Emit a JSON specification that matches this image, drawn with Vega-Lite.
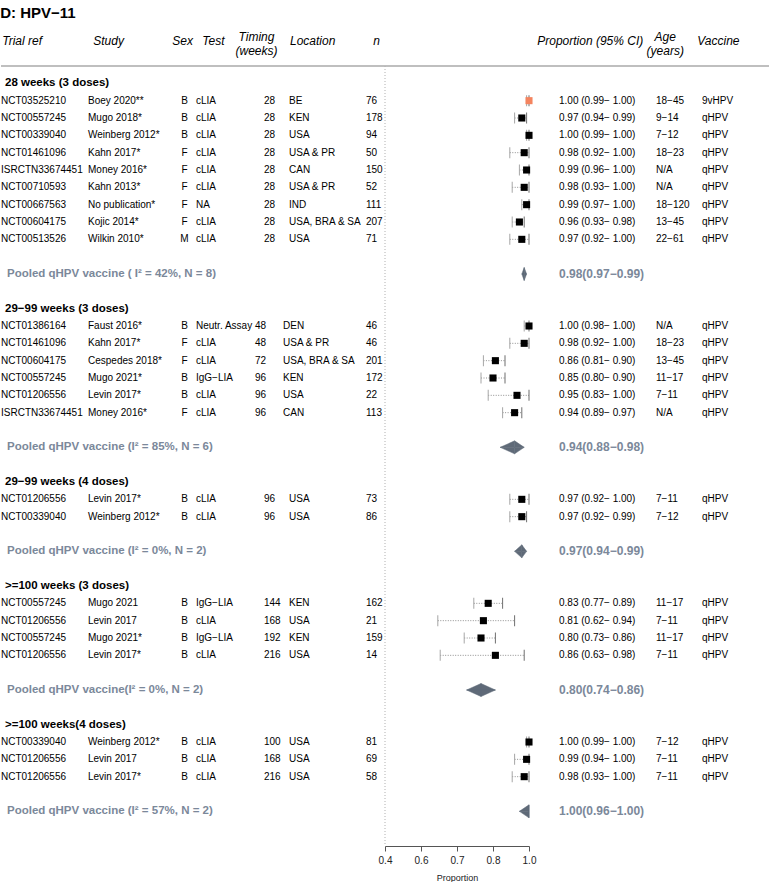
{
  "$schema": "https://vega.github.io/schema/vega-lite/v6.json",
  "padding": {"top": 6, "left": 0, "right": 0, "bottom": 0},
  "title": {"text": "D: HPV−11", "anchor": "start", "fontSize": 15, "fontWeight": "bold", "offset": 10, "color": "#000000"},
  "spacing": 0,
  "bounds": "flush",
  "config": {
    "font": "Liberation Sans",
    "view": {"stroke": null},
    "concat": {"spacing": 0},
    "axisX": {"labelFontSize": 10, "labelColor": "#222222", "titleFontSize": 9, "titleFontWeight": "normal", "titleColor": "#222222", "labelFlush": false, "tickSize": 5, "domainColor": "#555555", "tickColor": "#555555", "grid": false, "labelPadding": 4, "titlePadding": 8}
  },
  "datasets": {
    "rows": [
      {"k": 0, "kind": "hdr", "sec": 1, "label": "28 weeks (3 doses)"},
      {"k": 1, "kind": "study", "sec": 1, "trial": "NCT03525210", "study": "Boey 2020**", "sex": "B", "test": "cLIA", "time": 28, "loc": "BE", "n": 76, "ci": "1.00 (0.99− 1.00)", "age": "18−45", "vac": "9vHPV", "est": 1.00, "lo": 0.99, "hi": 1.00},
      {"k": 2, "kind": "study", "sec": 1, "trial": "NCT00557245", "study": "Mugo 2018*", "sex": "B", "test": "cLIA", "time": 28, "loc": "KEN", "n": 178, "ci": "0.97 (0.94− 0.99)", "age": "9−14", "vac": "qHPV", "est": 0.97, "lo": 0.94, "hi": 0.99},
      {"k": 3, "kind": "study", "sec": 1, "trial": "NCT00339040", "study": "Weinberg 2012*", "sex": "B", "test": "cLIA", "time": 28, "loc": "USA", "n": 94, "ci": "1.00 (0.99− 1.00)", "age": "7−12", "vac": "qHPV", "est": 1.00, "lo": 0.99, "hi": 1.00},
      {"k": 4, "kind": "study", "sec": 1, "trial": "NCT01461096", "study": "Kahn 2017*", "sex": "F", "test": "cLIA", "time": 28, "loc": "USA & PR", "n": 50, "ci": "0.98 (0.92− 1.00)", "age": "18−23", "vac": "qHPV", "est": 0.98, "lo": 0.92, "hi": 1.00},
      {"k": 5, "kind": "study", "sec": 1, "trial": "ISRCTN33674451", "study": "Money 2016*", "sex": "F", "test": "cLIA", "time": 28, "loc": "CAN", "n": 150, "ci": "0.99 (0.96− 1.00)", "age": "N/A", "vac": "qHPV", "est": 0.99, "lo": 0.96, "hi": 1.00},
      {"k": 6, "kind": "study", "sec": 1, "trial": "NCT00710593", "study": "Kahn 2013*", "sex": "F", "test": "cLIA", "time": 28, "loc": "USA & PR", "n": 52, "ci": "0.98 (0.93− 1.00)", "age": "N/A", "vac": "qHPV", "est": 0.98, "lo": 0.93, "hi": 1.00},
      {"k": 7, "kind": "study", "sec": 1, "trial": "NCT00667563", "study": "No publication*", "sex": "F", "test": "NA", "time": 28, "loc": "IND", "n": 111, "ci": "0.99 (0.97− 1.00)", "age": "18−120", "vac": "qHPV", "est": 0.99, "lo": 0.97, "hi": 1.00},
      {"k": 8, "kind": "study", "sec": 1, "trial": "NCT00604175", "study": "Kojic 2014*", "sex": "F", "test": "cLIA", "time": 28, "loc": "USA, BRA & SA", "n": 207, "ci": "0.96 (0.93− 0.98)", "age": "13−45", "vac": "qHPV", "est": 0.96, "lo": 0.93, "hi": 0.98},
      {"k": 9, "kind": "study", "sec": 1, "trial": "NCT00513526", "study": "Wilkin 2010*", "sex": "M", "test": "cLIA", "time": 28, "loc": "USA", "n": 71, "ci": "0.97 (0.92− 1.00)", "age": "22−61", "vac": "qHPV", "est": 0.97, "lo": 0.92, "hi": 1.00},
      {"k": 11, "kind": "pool", "sec": 1, "label": "Pooled qHPV vaccine ( I² = 42%, N = 8)", "pci": "0.98(0.97−0.99)", "est": 0.98, "lo": 0.97, "hi": 0.99},
      {"k": 13, "kind": "hdr", "sec": 2, "label": "29−99 weeks (3 doses)"},
      {"k": 14, "kind": "study", "sec": 2, "trial": "NCT01386164", "study": "Faust 2016*", "sex": "B", "test": "Neutr. Assay", "time": 48, "loc": "DEN", "n": 46, "ci": "1.00 (0.98− 1.00)", "age": "N/A", "vac": "qHPV", "est": 1.00, "lo": 0.98, "hi": 1.00},
      {"k": 15, "kind": "study", "sec": 2, "trial": "NCT01461096", "study": "Kahn 2017*", "sex": "F", "test": "cLIA", "time": 48, "loc": "USA & PR", "n": 46, "ci": "0.98 (0.92− 1.00)", "age": "18−23", "vac": "qHPV", "est": 0.98, "lo": 0.92, "hi": 1.00},
      {"k": 16, "kind": "study", "sec": 2, "trial": "NCT00604175", "study": "Cespedes 2018*", "sex": "F", "test": "cLIA", "time": 72, "loc": "USA, BRA & SA", "n": 201, "ci": "0.86 (0.81− 0.90)", "age": "13−45", "vac": "qHPV", "est": 0.86, "lo": 0.81, "hi": 0.90},
      {"k": 17, "kind": "study", "sec": 2, "trial": "NCT00557245", "study": "Mugo 2021*", "sex": "B", "test": "IgG−LIA", "time": 96, "loc": "KEN", "n": 172, "ci": "0.85 (0.80− 0.90)", "age": "11−17", "vac": "qHPV", "est": 0.85, "lo": 0.80, "hi": 0.90},
      {"k": 18, "kind": "study", "sec": 2, "trial": "NCT01206556", "study": "Levin 2017*", "sex": "B", "test": "cLIA", "time": 96, "loc": "USA", "n": 22, "ci": "0.95 (0.83− 1.00)", "age": "7−11", "vac": "qHPV", "est": 0.95, "lo": 0.83, "hi": 1.00},
      {"k": 19, "kind": "study", "sec": 2, "trial": "ISRCTN33674451", "study": "Money 2016*", "sex": "F", "test": "cLIA", "time": 96, "loc": "CAN", "n": 113, "ci": "0.94 (0.89− 0.97)", "age": "N/A", "vac": "qHPV", "est": 0.94, "lo": 0.89, "hi": 0.97},
      {"k": 21, "kind": "pool", "sec": 2, "label": "Pooled qHPV vaccine (I² = 85%, N = 6)", "pci": "0.94(0.88−0.98)", "est": 0.94, "lo": 0.88, "hi": 0.98},
      {"k": 23, "kind": "hdr", "sec": 3, "label": "29−99 weeks (4 doses)"},
      {"k": 24, "kind": "study", "sec": 3, "trial": "NCT01206556", "study": "Levin 2017*", "sex": "B", "test": "cLIA", "time": 96, "loc": "USA", "n": 73, "ci": "0.97 (0.92− 1.00)", "age": "7−11", "vac": "qHPV", "est": 0.97, "lo": 0.92, "hi": 1.00},
      {"k": 25, "kind": "study", "sec": 3, "trial": "NCT00339040", "study": "Weinberg 2012*", "sex": "B", "test": "cLIA", "time": 96, "loc": "USA", "n": 86, "ci": "0.97 (0.92− 0.99)", "age": "7−12", "vac": "qHPV", "est": 0.97, "lo": 0.92, "hi": 0.99},
      {"k": 27, "kind": "pool", "sec": 3, "label": "Pooled qHPV vaccine (I² = 0%, N = 2)", "pci": "0.97(0.94−0.99)", "est": 0.97, "lo": 0.94, "hi": 0.99},
      {"k": 29, "kind": "hdr", "sec": 4, "label": ">=100 weeks (3 doses)"},
      {"k": 30, "kind": "study", "sec": 4, "trial": "NCT00557245", "study": "Mugo 2021", "sex": "B", "test": "IgG−LIA", "time": 144, "loc": "KEN", "n": 162, "ci": "0.83 (0.77− 0.89)", "age": "11−17", "vac": "qHPV", "est": 0.83, "lo": 0.77, "hi": 0.89},
      {"k": 31, "kind": "study", "sec": 4, "trial": "NCT01206556", "study": "Levin 2017", "sex": "B", "test": "cLIA", "time": 168, "loc": "USA", "n": 21, "ci": "0.81 (0.62− 0.94)", "age": "7−11", "vac": "qHPV", "est": 0.81, "lo": 0.62, "hi": 0.94},
      {"k": 32, "kind": "study", "sec": 4, "trial": "NCT00557245", "study": "Mugo 2021*", "sex": "B", "test": "IgG−LIA", "time": 192, "loc": "KEN", "n": 159, "ci": "0.80 (0.73− 0.86)", "age": "11−17", "vac": "qHPV", "est": 0.80, "lo": 0.73, "hi": 0.86},
      {"k": 33, "kind": "study", "sec": 4, "trial": "NCT01206556", "study": "Levin 2017*", "sex": "B", "test": "cLIA", "time": 216, "loc": "USA", "n": 14, "ci": "0.86 (0.63− 0.98)", "age": "7−11", "vac": "qHPV", "est": 0.86, "lo": 0.63, "hi": 0.98},
      {"k": 35, "kind": "pool", "sec": 4, "label": "Pooled qHPV vaccine(I² = 0%, N = 2)", "pci": "0.80(0.74−0.86)", "est": 0.80, "lo": 0.74, "hi": 0.86},
      {"k": 37, "kind": "hdr", "sec": 5, "label": ">=100 weeks(4 doses)"},
      {"k": 38, "kind": "study", "sec": 5, "trial": "NCT00339040", "study": "Weinberg 2012*", "sex": "B", "test": "cLIA", "time": 100, "loc": "USA", "n": 81, "ci": "1.00 (0.99− 1.00)", "age": "7−12", "vac": "qHPV", "est": 1.00, "lo": 0.99, "hi": 1.00},
      {"k": 39, "kind": "study", "sec": 5, "trial": "NCT01206556", "study": "Levin 2017", "sex": "B", "test": "cLIA", "time": 168, "loc": "USA", "n": 69, "ci": "0.99 (0.94− 1.00)", "age": "7−11", "vac": "qHPV", "est": 0.99, "lo": 0.94, "hi": 1.00},
      {"k": 40, "kind": "study", "sec": 5, "trial": "NCT01206556", "study": "Levin 2017*", "sex": "B", "test": "cLIA", "time": 216, "loc": "USA", "n": 58, "ci": "0.98 (0.93− 1.00)", "age": "7−11", "vac": "qHPV", "est": 0.98, "lo": 0.93, "hi": 1.00},
      {"k": 42, "kind": "pool", "sec": 5, "label": "Pooled qHPV vaccine (I² = 57%, N = 2)", "pci": "1.00(0.96−1.00)", "est": 1.00, "lo": 0.96, "hi": 1.00}
    ]
  },
  "hconcat": [
    {
      "width": 87, "height": 780, "data": {"name": "rows"},
      "title": {"text": "Trial ref", "anchor": "start", "dx": 2, "offset": 17, "fontSize": 12, "fontStyle": "italic", "fontWeight": "normal", "color": "#000000"},
      "layer": [
        {"data": {"values": [{}]}, "mark": {"type": "rule", "color": "#aaaaaa", "strokeWidth": 1.5}, "encoding": {"y": {"datum": -1, "type": "quantitative", "scale": {"domain": [-1, 44], "reverse": true, "nice": false, "zero": false}, "axis": null}}},
        {"transform": [{"filter": "datum.kind === 'study'"}], "mark": {"type": "text", "align": "left", "baseline": "middle", "fontSize": 10, "color": "#000000"},
         "encoding": {"x": {"datum": 0, "type": "quantitative", "scale": {"domain": [0, 1]}, "axis": null}, "y": {"field": "k", "type": "quantitative", "axis": null}, "text": {"field": "trial", "type": "nominal"}}},
        {"transform": [{"filter": "datum.kind === 'hdr'"}], "mark": {"type": "text", "align": "left", "baseline": "middle", "fontSize": 11.5, "fontWeight": "bold", "dx": 4, "color": "#000000"},
         "encoding": {"x": {"datum": 0, "type": "quantitative", "axis": null}, "y": {"field": "k", "type": "quantitative", "axis": null}, "text": {"field": "label", "type": "nominal"}}},
        {"transform": [{"filter": "datum.kind === 'pool'"}], "mark": {"type": "text", "align": "left", "baseline": "middle", "fontSize": 11.5, "fontWeight": "bold", "dx": 6, "color": "#7b889a"},
         "encoding": {"x": {"datum": 0, "type": "quantitative", "axis": null}, "y": {"field": "k", "type": "quantitative", "axis": null}, "text": {"field": "label", "type": "nominal"}}}
      ]
    },
    {
      "width": 85, "height": 780, "data": {"name": "rows"},
      "title": {"text": "Study", "anchor": "start", "dx": 6, "offset": 17, "fontSize": 12, "fontStyle": "italic", "fontWeight": "normal", "color": "#000000"},
      "layer": [
        {"data": {"values": [{}]}, "mark": {"type": "rule", "color": "#aaaaaa", "strokeWidth": 1.5}, "encoding": {"y": {"datum": -1, "type": "quantitative", "scale": {"domain": [-1, 44], "reverse": true, "nice": false, "zero": false}, "axis": null}}},
        {"transform": [{"filter": "datum.kind === 'study'"}], "mark": {"type": "text", "align": "left", "baseline": "middle", "fontSize": 10, "color": "#000000"},
         "encoding": {"x": {"datum": 0, "type": "quantitative", "scale": {"domain": [0, 1]}, "axis": null}, "y": {"field": "k", "type": "quantitative", "axis": null}, "text": {"field": "study", "type": "nominal"}}}
      ]
    },
    {
      "width": 23, "height": 780, "data": {"name": "rows"},
      "title": {"text": "Sex", "anchor": "start", "dx": 0, "offset": 17, "fontSize": 12, "fontStyle": "italic", "fontWeight": "normal", "color": "#000000"},
      "layer": [
        {"data": {"values": [{}]}, "mark": {"type": "rule", "color": "#aaaaaa", "strokeWidth": 1.5}, "encoding": {"y": {"datum": -1, "type": "quantitative", "scale": {"domain": [-1, 44], "reverse": true, "nice": false, "zero": false}, "axis": null}}},
        {"transform": [{"filter": "datum.kind === 'study'"}], "mark": {"type": "text", "align": "center", "baseline": "middle", "fontSize": 10, "color": "#000000"},
         "encoding": {"x": {"datum": 0.5, "type": "quantitative", "scale": {"domain": [0, 1]}, "axis": null}, "y": {"field": "k", "type": "quantitative", "axis": null}, "text": {"field": "sex", "type": "nominal"}}}
      ]
    },
    {
      "width": 68, "height": 780, "data": {"name": "rows"},
      "title": {"text": "Test", "anchor": "start", "dx": 7, "offset": 17, "fontSize": 12, "fontStyle": "italic", "fontWeight": "normal", "color": "#000000"},
      "layer": [
        {"data": {"values": [{}]}, "mark": {"type": "rule", "color": "#aaaaaa", "strokeWidth": 1.5}, "encoding": {"y": {"datum": -1, "type": "quantitative", "scale": {"domain": [-1, 44], "reverse": true, "nice": false, "zero": false}, "axis": null}}},
        {"transform": [{"filter": "datum.kind === 'study'"}], "mark": {"type": "text", "align": "left", "baseline": "middle", "fontSize": 10, "color": "#000000"},
         "encoding": {"x": {"datum": 0, "type": "quantitative", "scale": {"domain": [0, 1]}, "axis": null}, "y": {"field": "k", "type": "quantitative", "axis": null}, "text": {"field": "test", "type": "nominal"}}}
      ]
    },
    {
      "width": 25, "height": 780, "data": {"name": "rows"},
      "title": {"text": ["Timing", "(weeks)"], "anchor": "start", "align": "center", "dx": 1.5, "offset": 7, "fontSize": 12, "fontStyle": "italic", "fontWeight": "normal", "color": "#000000"},
      "layer": [
        {"data": {"values": [{}]}, "mark": {"type": "rule", "color": "#aaaaaa", "strokeWidth": 1.5}, "encoding": {"y": {"datum": -1, "type": "quantitative", "scale": {"domain": [-1, 44], "reverse": true, "nice": false, "zero": false}, "axis": null}}},
        {"transform": [{"filter": "datum.kind === 'study' && datum.sec !== 2"}], "mark": {"type": "text", "align": "left", "baseline": "middle", "fontSize": 10, "color": "#000000"},
         "encoding": {"x": {"datum": 0, "type": "quantitative", "scale": {"domain": [0, 1]}, "axis": null}, "y": {"field": "k", "type": "quantitative", "axis": null}, "text": {"field": "time", "type": "nominal"}}},
        {"transform": [{"filter": "datum.kind === 'study' && datum.sec === 2"}], "mark": {"type": "text", "align": "left", "baseline": "middle", "fontSize": 10, "dx": -9, "color": "#000000"},
         "encoding": {"x": {"datum": 0, "type": "quantitative", "axis": null}, "y": {"field": "k", "type": "quantitative", "axis": null}, "text": {"field": "time", "type": "nominal"}}}
      ]
    },
    {
      "width": 77, "height": 780, "data": {"name": "rows"},
      "title": {"text": "Location", "anchor": "start", "dx": 7, "offset": 17, "fontSize": 12, "fontStyle": "italic", "fontWeight": "normal", "color": "#000000"},
      "layer": [
        {"data": {"values": [{}]}, "mark": {"type": "rule", "color": "#aaaaaa", "strokeWidth": 1.5}, "encoding": {"y": {"datum": -1, "type": "quantitative", "scale": {"domain": [-1, 44], "reverse": true, "nice": false, "zero": false}, "axis": null}}},
        {"transform": [{"filter": "datum.kind === 'study' && datum.sec !== 2"}], "mark": {"type": "text", "align": "left", "baseline": "middle", "fontSize": 10, "color": "#000000"},
         "encoding": {"x": {"datum": 0, "type": "quantitative", "scale": {"domain": [0, 1]}, "axis": null}, "y": {"field": "k", "type": "quantitative", "axis": null}, "text": {"field": "loc", "type": "nominal"}}},
        {"transform": [{"filter": "datum.kind === 'study' && datum.sec === 2"}], "mark": {"type": "text", "align": "left", "baseline": "middle", "fontSize": 10, "dx": -6, "color": "#000000"},
         "encoding": {"x": {"datum": 0, "type": "quantitative", "axis": null}, "y": {"field": "k", "type": "quantitative", "axis": null}, "text": {"field": "loc", "type": "nominal"}}}
      ]
    },
    {
      "width": 19, "height": 780, "data": {"name": "rows"},
      "title": {"text": "n", "anchor": "start", "dx": 8, "offset": 17, "fontSize": 12, "fontStyle": "italic", "fontWeight": "normal", "color": "#000000"},
      "layer": [
        {"data": {"values": [{}]}, "mark": {"type": "rule", "color": "#aaaaaa", "strokeWidth": 1.5}, "encoding": {"y": {"datum": -1, "type": "quantitative", "scale": {"domain": [-1, 44], "reverse": true, "nice": false, "zero": false}, "axis": null}}},
        {"transform": [{"filter": "datum.kind === 'study'"}], "mark": {"type": "text", "align": "left", "baseline": "middle", "fontSize": 10, "color": "#000000"},
         "encoding": {"x": {"datum": 0, "type": "quantitative", "scale": {"domain": [0, 1]}, "axis": null}, "y": {"field": "k", "type": "quantitative", "axis": null}, "text": {"field": "n", "type": "nominal"}}}
      ]
    },
    {
      "width": 144, "height": 780, "data": {"name": "rows"},
      "resolve": {"scale": {"yOffset": "independent"}},
      "layer": [
        {"data": {"values": [{}]}, "mark": {"type": "rule", "color": "#aaaaaa", "strokeWidth": 1.5},
         "encoding": {"y": {"datum": -1, "type": "ordinal", "scale": {"type": "point", "padding": 0, "domain": [-1, 0, 1, 2, 3, 4, 5, 6, 7, 8, 9, 10, 11, 12, 13, 14, 15, 16, 17, 18, 19, 20, 21, 22, 23, 24, 25, 26, 27, 28, 29, 30, 31, 32, 33, 34, 35, 36, 37, 38, 39, 40, 41, 42, 43, 44]}, "axis": null}}},
        {"data": {"values": [{}]}, "mark": {"type": "rule", "color": "#b0b0b0", "strokeWidth": 1, "strokeDash": [1, 2]},
         "encoding": {"x": {"datum": 0.4, "type": "quantitative", "scale": {"domain": [0.4, 1.0], "nice": false, "zero": false}, "axis": {"values": [0.4, 0.55, 0.7, 0.85, 1.0], "format": ".1f", "title": "Proportion"}}}},
        {"transform": [{"filter": "datum.kind === 'study'"}], "mark": {"type": "rule", "color": "#8f8f8f", "strokeWidth": 1, "strokeDash": [1, 1.5]},
         "encoding": {"x": {"field": "lo", "type": "quantitative", "axis": {"values": [0.4, 0.55, 0.7, 0.85, 1.0], "format": ".1f", "title": "Proportion"}}, "x2": {"field": "hi"}, "y": {"field": "k", "type": "ordinal", "axis": null}}},
        {"transform": [{"filter": "datum.kind === 'study'"}], "mark": {"type": "tick", "orient": "vertical", "size": 11, "thickness": 1, "color": "#a6a6a6", "opacity": 1},
         "encoding": {"x": {"field": "lo", "type": "quantitative", "axis": {"values": [0.4, 0.55, 0.7, 0.85, 1.0], "format": ".1f", "title": "Proportion"}}, "y": {"field": "k", "type": "ordinal", "axis": null}}},
        {"transform": [{"filter": "datum.kind === 'study'"}], "mark": {"type": "tick", "orient": "vertical", "size": 11, "thickness": 1, "color": "#6f6f6f", "opacity": 1},
         "encoding": {"x": {"field": "hi", "type": "quantitative", "axis": {"values": [0.4, 0.55, 0.7, 0.85, 1.0], "format": ".1f", "title": "Proportion"}}, "y": {"field": "k", "type": "ordinal", "axis": null}}},
        {"transform": [{"filter": "datum.kind === 'study'"}], "mark": {"type": "point", "shape": "square", "filled": true, "size": 50, "opacity": 1},
         "encoding": {
           "x": {"field": "est", "type": "quantitative", "axis": {"values": [0.4, 0.55, 0.7, 0.85, 1.0], "format": ".1f", "title": "Proportion"}},
           "y": {"field": "k", "type": "ordinal", "axis": null},
           "color": {"field": "vac", "type": "nominal", "scale": {"domain": ["qHPV", "9vHPV"], "range": ["#000000", "#f4845f"]}, "legend": null}}},
        {"transform": [{"filter": "datum.kind === 'pool'"}, {"fold": ["est", "lo"], "as": ["key", "val"]}], "mark": {"type": "area", "orient": "horizontal", "color": "#5f6a78", "opacity": 1, "stroke": "#5f6a78", "strokeWidth": 0.5},
         "encoding": {"x": {"field": "val", "type": "quantitative", "stack": null, "axis": {"values": [0.4, 0.55, 0.7, 0.85, 1.0], "format": ".1f", "title": "Proportion"}}, "x2": {"field": "est"}, "y": {"field": "k", "type": "ordinal", "axis": null}, "yOffset": {"field": "key", "type": "nominal", "scale": {"type": "point", "domain": ["est", "lo"], "range": [-6.5, 0], "padding": 0}}, "detail": {"field": "k", "type": "nominal"}}},
        {"transform": [{"filter": "datum.kind === 'pool'"}, {"fold": ["lo", "est"], "as": ["key", "val"]}], "mark": {"type": "area", "orient": "horizontal", "color": "#5f6a78", "opacity": 1, "stroke": "#5f6a78", "strokeWidth": 0.5},
         "encoding": {"x": {"field": "val", "type": "quantitative", "stack": null, "axis": {"values": [0.4, 0.55, 0.7, 0.85, 1.0], "format": ".1f", "title": "Proportion"}}, "x2": {"field": "est"}, "y": {"field": "k", "type": "ordinal", "axis": null}, "yOffset": {"field": "key", "type": "nominal", "scale": {"type": "point", "domain": ["lo", "est"], "range": [0, 6.5], "padding": 0}}, "detail": {"field": "k", "type": "nominal"}}},
        {"transform": [{"filter": "datum.kind === 'pool'"}, {"fold": ["est", "hi"], "as": ["key", "val"]}], "mark": {"type": "area", "orient": "horizontal", "color": "#5f6a78", "opacity": 1, "stroke": "#5f6a78", "strokeWidth": 0.5},
         "encoding": {"x": {"field": "val", "type": "quantitative", "stack": null, "axis": {"values": [0.4, 0.55, 0.7, 0.85, 1.0], "format": ".1f", "title": "Proportion"}}, "x2": {"field": "est"}, "y": {"field": "k", "type": "ordinal", "axis": null}, "yOffset": {"field": "key", "type": "nominal", "scale": {"type": "point", "domain": ["est", "hi"], "range": [-6.5, 0], "padding": 0}}, "detail": {"field": "k", "type": "nominal"}}},
        {"transform": [{"filter": "datum.kind === 'pool'"}, {"fold": ["hi", "est"], "as": ["key", "val"]}], "mark": {"type": "area", "orient": "horizontal", "color": "#5f6a78", "opacity": 1, "stroke": "#5f6a78", "strokeWidth": 0.5},
         "encoding": {"x": {"field": "val", "type": "quantitative", "stack": null, "axis": {"values": [0.4, 0.55, 0.7, 0.85, 1.0], "format": ".1f", "title": "Proportion"}}, "x2": {"field": "est"}, "y": {"field": "k", "type": "ordinal", "axis": null}, "yOffset": {"field": "key", "type": "nominal", "scale": {"type": "point", "domain": ["hi", "est"], "range": [0, 6.5], "padding": 0}}, "detail": {"field": "k", "type": "nominal"}}}
      ]
    },
    {
      "width": 127, "height": 780, "data": {"name": "rows"},
      "title": {"text": "Proportion (95% CI)", "anchor": "start", "dx": 9, "offset": 17, "fontSize": 12, "fontStyle": "italic", "fontWeight": "normal", "color": "#000000"},
      "layer": [
        {"data": {"values": [{}]}, "mark": {"type": "rule", "color": "#aaaaaa", "strokeWidth": 1.5}, "encoding": {"y": {"datum": -1, "type": "quantitative", "scale": {"domain": [-1, 44], "reverse": true, "nice": false, "zero": false}, "axis": null}}},
        {"transform": [{"filter": "datum.kind === 'study'"}], "mark": {"type": "text", "align": "left", "baseline": "middle", "fontSize": 10, "dx": 30, "color": "#000000"},
         "encoding": {"x": {"datum": 0, "type": "quantitative", "scale": {"domain": [0, 1]}, "axis": null}, "y": {"field": "k", "type": "quantitative", "axis": null}, "text": {"field": "ci", "type": "nominal"}}},
        {"transform": [{"filter": "datum.kind === 'pool'"}], "mark": {"type": "text", "align": "left", "baseline": "middle", "fontSize": 12, "fontWeight": "bold", "dx": 30, "color": "#7b889a"},
         "encoding": {"x": {"datum": 0, "type": "quantitative", "axis": null}, "y": {"field": "k", "type": "quantitative", "axis": null}, "text": {"field": "pci", "type": "nominal"}}}
      ]
    },
    {
      "width": 46, "height": 780, "data": {"name": "rows"},
      "title": {"text": ["Age", "(years)"], "anchor": "start", "align": "center", "dx": 10, "offset": 7, "fontSize": 12, "fontStyle": "italic", "fontWeight": "normal", "color": "#000000"},
      "layer": [
        {"data": {"values": [{}]}, "mark": {"type": "rule", "color": "#aaaaaa", "strokeWidth": 1.5}, "encoding": {"y": {"datum": -1, "type": "quantitative", "scale": {"domain": [-1, 44], "reverse": true, "nice": false, "zero": false}, "axis": null}}},
        {"transform": [{"filter": "datum.kind === 'study'"}], "mark": {"type": "text", "align": "left", "baseline": "middle", "fontSize": 10, "color": "#000000"},
         "encoding": {"x": {"datum": 0, "type": "quantitative", "scale": {"domain": [0, 1]}, "axis": null}, "y": {"field": "k", "type": "quantitative", "axis": null}, "text": {"field": "age", "type": "nominal"}}}
      ]
    },
    {
      "width": 68, "height": 780, "data": {"name": "rows"},
      "title": {"text": "Vaccine", "anchor": "start", "dx": -4, "offset": 17, "fontSize": 12, "fontStyle": "italic", "fontWeight": "normal", "color": "#000000"},
      "layer": [
        {"data": {"values": [{}]}, "mark": {"type": "rule", "color": "#aaaaaa", "strokeWidth": 1.5}, "encoding": {"y": {"datum": -1, "type": "quantitative", "scale": {"domain": [-1, 44], "reverse": true, "nice": false, "zero": false}, "axis": null}}},
        {"transform": [{"filter": "datum.kind === 'study'"}], "mark": {"type": "text", "align": "left", "baseline": "middle", "fontSize": 10, "color": "#000000"},
         "encoding": {"x": {"datum": 0, "type": "quantitative", "scale": {"domain": [0, 1]}, "axis": null}, "y": {"field": "k", "type": "quantitative", "axis": null}, "text": {"field": "vac", "type": "nominal"}}}
      ]
    }
  ]
}
